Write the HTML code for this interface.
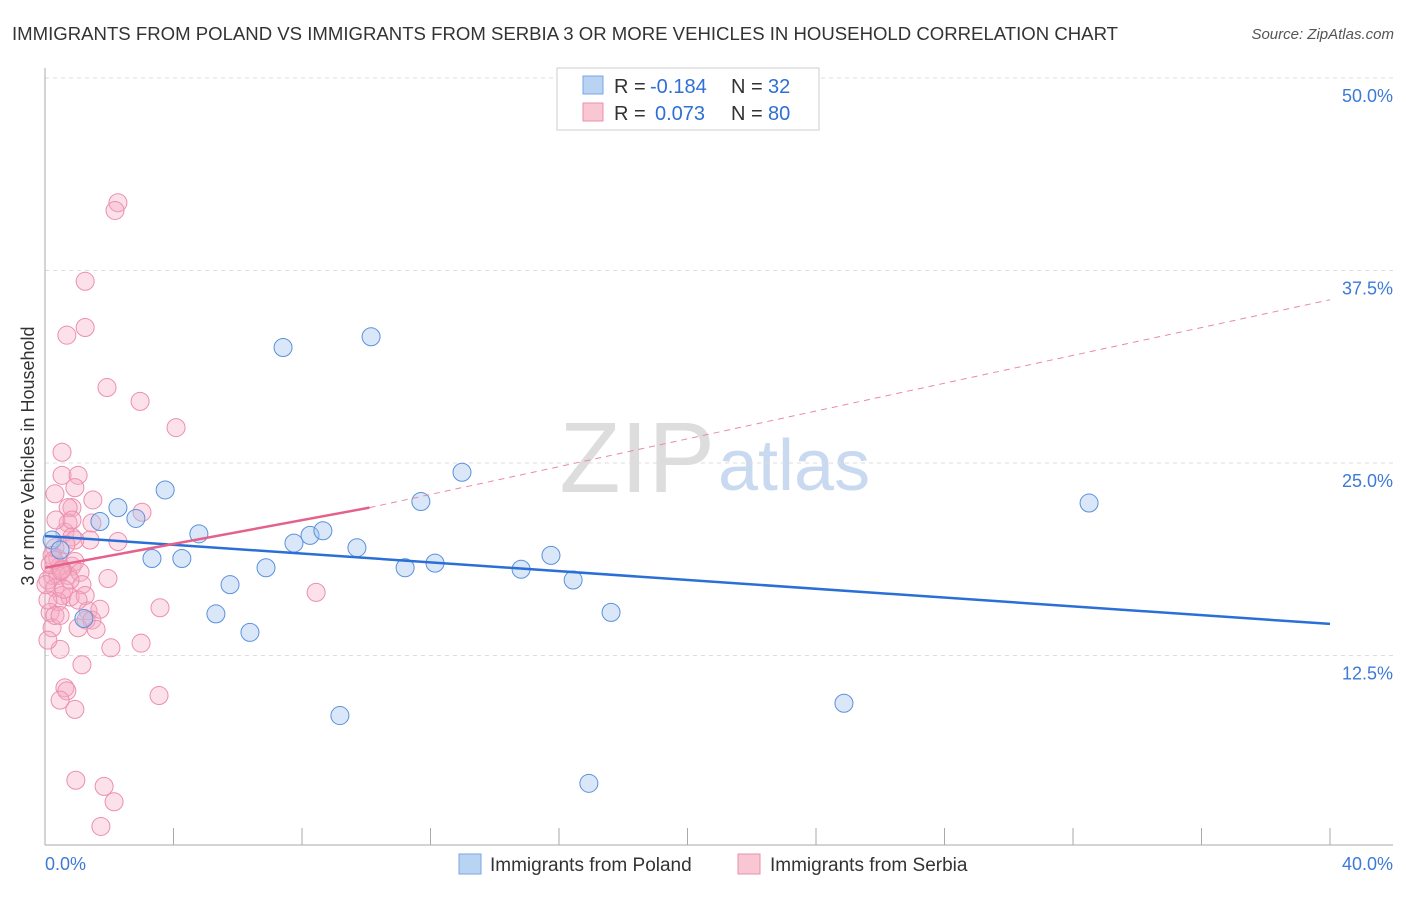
<!DOCTYPE html>
<html><head><meta charset="utf-8"><style>
body{margin:0;background:#fff;font-family:"Liberation Sans",sans-serif;}
svg text{font-family:"Liberation Sans",sans-serif;}
</style></head><body>
<svg id="c" width="1406" height="892" xmlns="http://www.w3.org/2000/svg">
<text x="12" y="40" font-size="18" fill="#333" textLength="1106" lengthAdjust="spacingAndGlyphs">IMMIGRANTS FROM POLAND VS IMMIGRANTS FROM SERBIA 3 OR MORE VEHICLES IN HOUSEHOLD CORRELATION CHART</text>
<text x="1394" y="39" font-size="15" fill="#555" font-style="italic" text-anchor="end">Source: ZipAtlas.com</text>
<text x="715" y="492" font-size="100" fill="#ddd" text-anchor="end" font-family="Liberation Serif">ZIP</text>
<text x="718" y="490" font-size="72" fill="#c9d9ef">atlas</text>
<text transform="translate(34,456) rotate(-90)" font-size="18" fill="#333" text-anchor="middle">3 or more Vehicles in Household</text>
<g id="grid"></g><g id="marks"></g>
<rect x="557" y="68" width="262" height="62" fill="#fff" stroke="#ccc"/>
<rect x="583" y="76" width="20" height="18" fill="#b9d3f3" stroke="#7aa6e0"/>
<rect x="583" y="103" width="20" height="18" fill="#f9c6d4" stroke="#ea8fab"/>
<text x="614" y="93" font-size="20" fill="#333">R =</text>
<text x="650" y="93" font-size="20" fill="#2f6fd6">-0.184</text>
<text x="731" y="93" font-size="20" fill="#333">N =</text>
<text x="768" y="93" font-size="20" fill="#2f6fd6">32</text>
<text x="614" y="120" font-size="20" fill="#333">R =</text>
<text x="655" y="120" font-size="20" fill="#2f6fd6">0.073</text>
<text x="731" y="120" font-size="20" fill="#333">N =</text>
<text x="768" y="120" font-size="20" fill="#2f6fd6">80</text>
<rect x="459" y="854" width="22" height="20" fill="#b9d3f3" stroke="#7aa6e0"/>
<text x="490" y="871" font-size="19" fill="#333">Immigrants from Poland</text>
<rect x="738" y="854" width="22" height="20" fill="#f9c6d4" stroke="#ea8fab"/>
<text x="770" y="871" font-size="19" fill="#333">Immigrants from Serbia</text>
</svg>
<script>
const yTicks=[12.5,25,37.5,50];
const yTickLabels=["12.5%","25.0%","37.5%","50.0%"];
const xTicks=[4,8,12,16,20,24,28,32,36,40];
const polandX=[0.22,0.47,1.71,2.27,2.83,3.33,3.74,4.26,4.79,5.32,5.76,6.38,6.88,7.41,7.75,8.25,8.65,9.18,9.71,10.15,11.21,11.7,12.14,12.98,14.82,15.75,16.44,17.62,24.87,32.5,16.93,1.21];
const polandY=[20.0,19.35,21.2,22.1,21.4,18.8,23.25,18.8,20.4,15.2,17.1,14.0,18.2,32.5,19.8,20.3,20.6,8.6,19.5,33.2,18.2,22.5,18.5,24.4,18.1,19.0,17.4,15.3,9.4,22.4,4.2,14.9];
const serbiaX=[2.27,2.18,1.25,1.25,0.68,1.93,2.96,4.08,0.53,0.53,1.03,0.93,0.31,1.49,0.84,0.72,3.02,1.46,0.72,0.62,0.84,2.27,0.31,0.22,0.47,0.84,0.93,0.22,0.09,0.40,0.72,1.09,1.15,1.96,0.31,0.53,0.78,0.40,0.16,1.34,1.28,1.46,0.22,1.03,1.59,0.31,3.58,8.44,2.99,2.05,0.47,0.09,1.15,0.62,0.68,0.47,0.93,3.55,0.96,1.84,2.15,1.74,0.40,0.16,0.78,0.59,1.40,0.09,0.93,0.34,1.71,0.47,0.03,1.25,0.53,1.03,0.65,0.28,0.84,0.5];
const serbiaY=[41.9,41.4,36.8,33.8,33.3,29.9,29.0,27.3,25.7,24.2,24.2,23.4,23.0,22.6,22.1,22.1,21.8,21.1,21.1,20.5,20.2,19.9,19.5,19.0,18.3,18.3,18.6,17.7,17.4,17.7,17.7,17.9,17.1,17.5,16.9,16.4,16.3,16.0,15.3,15.4,14.8,14.8,14.3,14.3,14.2,15.1,15.6,16.6,13.3,13.0,12.9,13.5,11.9,10.4,10.2,9.6,9.0,9.9,4.4,4.0,3.0,1.4,18.8,18.4,17.4,16.8,20.0,16.1,20.0,21.3,15.5,15.1,17.1,16.4,18.1,16.1,19.7,18.7,21.3,18.0];
const polandTrend=[20.26,14.55];
const serbiaTrend=[18.2,22.1,35.6];
const serbiaSolidEnd=10.1;
const X0=45,X1=1330,YB=848,YT=78;
const sx=v=>X0+(v/40)*(X1-X0);
const sy=v=>YB-(v/50)*(YB-YT);
const NS="http://www.w3.org/2000/svg";
const grid=document.getElementById('grid'),marks=document.getElementById('marks');
function mk(p,tag,a){const e=document.createElementNS(NS,tag);for(const k in a)e.setAttribute(k,a[k]);p.appendChild(e);return e;}
yTicks.forEach((t,i)=>{
 const l=mk(grid,'line',{x1:X0,x2:1393,y1:sy(t),y2:sy(t),stroke:'#ddd','stroke-dasharray':'4,4'});
 
 
 const tx=mk(grid,'text',{x:1393,y:sy(t)+24,'font-size':18,fill:'#3d7ad8','text-anchor':'end'});
 tx.textContent=yTickLabels[i];
 
 
});
let a=mk(grid,'line',{x1:X0,x2:X0,y1:68,y2:845,stroke:'#aaa'});


a=mk(grid,'line',{x1:X0,x2:1393,y1:845,y2:845,stroke:'#aaa'});


xTicks.forEach(t=>{const l=mk(grid,'line',{x1:sx(t),x2:sx(t),y1:828,y2:845,stroke:'#aaa'});
 
 });
let t0=mk(grid,'text',{x:45,y:870,'font-size':18,fill:'#3d7ad8'});t0.textContent='0.0%';


t0=mk(grid,'text',{x:1393,y:870,'font-size':18,fill:'#3d7ad8','text-anchor':'end'});t0.textContent='40.0%';


serbiaX.forEach((x,i)=>{const c=mk(marks,'circle',{cx:sx(x),cy:sy(serbiaY[i]),r:9,fill:'rgba(246,170,194,0.35)',stroke:'#ec8fad','stroke-width':1});
 
 });
polandX.forEach((x,i)=>{const c=mk(marks,'circle',{cx:sx(x),cy:sy(polandY[i]),r:9,fill:'rgba(160,195,240,0.4)',stroke:'#5b91dc','stroke-width':1});
 
 });
let tl=mk(marks,'line',{x1:sx(0),y1:sy(polandTrend[0]),x2:sx(40),y2:sy(polandTrend[1]),stroke:'#2a6fd6','stroke-width':2.5});


tl=mk(marks,'line',{x1:sx(0),y1:sy(serbiaTrend[0]),x2:sx(serbiaSolidEnd),y2:sy(serbiaTrend[1]),stroke:'#e5618a','stroke-width':2.5});


tl=mk(marks,'line',{x1:sx(serbiaSolidEnd),y1:sy(serbiaTrend[1]),x2:sx(40),y2:sy(serbiaTrend[2]),stroke:'#e88aa6','stroke-width':1,'stroke-dasharray':'6,5'});


</script>
</body></html>
